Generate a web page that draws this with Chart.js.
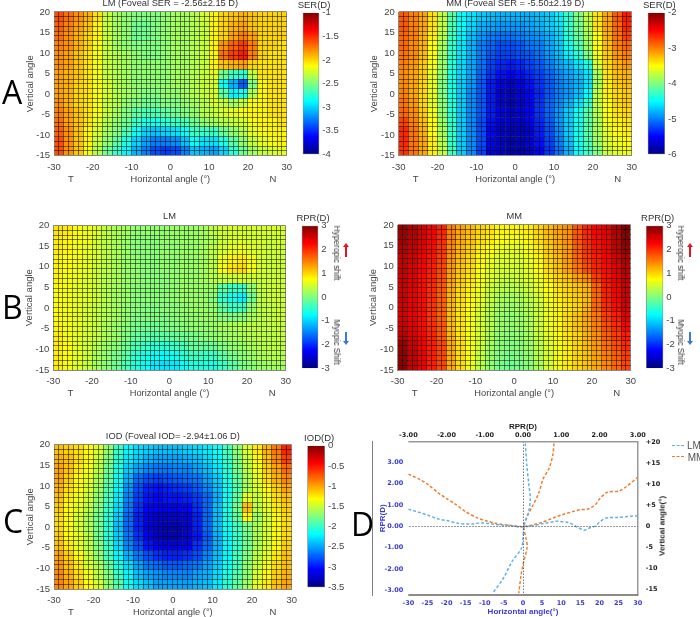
<!DOCTYPE html>
<html>
<head>
<meta charset="utf-8">
<title>Peripheral refraction maps</title>
<script src="https://cdn.jsdelivr.net/npm/chart.js@4"></script>
<style>
    html, body { margin: 0; background: #fff; overflow: hidden; }
    #page { position: relative; width: 700px; height: 617px; overflow: hidden; font-family: "Liberation Sans", sans-serif; color: #444; }
    canvas { position: absolute; filter: blur(0.4px); }
    .txt { position: absolute; white-space: nowrap; transform: translate(-50%, -50%); font-size: 9.5px; filter: blur(0.25px); }
    .letter { position: absolute; font-family: "Open Sans", sans-serif; font-size: 32px; line-height: 32px; color: #000; }
    .dash { position: absolute; width: 12px; border-top: 1.5px dashed; }
    .stem { position: absolute; width: 2px; }
    .head { position: absolute; width: 0; height: 0; border-left: 3px solid transparent; border-right: 3px solid transparent; }
</style>
</head>
<body>
<div id="page"></div>
<script>
// grid of the maps
const hAngles = [-28.75,-26.25,-23.75,-21.25,-18.75,-16.25,-13.75,-11.25,-8.75,-6.25,-3.75,-1.25,1.25,3.75,6.25,8.75,11.25,13.75,16.25,18.75,21.25,23.75,26.25,28.75];
const vEdges = [20,17.67,15.33,13,10.67,8.33,6,3.67,1.33,-1,-3.33,-5.67,-8,-10.33,-12.67,-15];

const lmSer = [
[-1.6,-1.7,-1.8,-1.9,-2.05,-2.3,-2.4,-2.45,-2.5,-2.5,-2.5,-2.45,-2.4,-2.4,-2.35,-2.25,-2.1,-2,-1.95,-1.9,-1.95,-2,-2,-2],
[-1.65,-1.75,-1.85,-1.95,-2.1,-2.3,-2.4,-2.45,-2.55,-2.55,-2.5,-2.45,-2.4,-2.4,-2.35,-2.3,-2.1,-2,-1.9,-1.85,-1.95,-2,-2,-2],
[-1.7,-1.8,-1.9,-2,-2.1,-2.3,-2.4,-2.45,-2.55,-2.55,-2.5,-2.45,-2.4,-2.4,-2.35,-2.3,-2.1,-2,-1.85,-1.75,-1.85,-2,-2,-2],
[-1.75,-1.8,-1.9,-2,-2.15,-2.3,-2.4,-2.45,-2.5,-2.5,-2.5,-2.45,-2.4,-2.4,-2.35,-2.3,-2.1,-1.8,-1.65,-1.55,-1.75,-2,-2,-2.05],
[-1.8,-1.85,-1.95,-2.05,-2.15,-2.3,-2.35,-2.4,-2.45,-2.5,-2.5,-2.45,-2.4,-2.4,-2.35,-2.3,-2.1,-1.7,-1.55,-1.45,-1.75,-2,-2.05,-2.05],
[-1.8,-1.85,-1.95,-2.05,-2.15,-2.3,-2.35,-2.4,-2.45,-2.45,-2.45,-2.45,-2.4,-2.4,-2.35,-2.3,-2.1,-1.95,-1.9,-1.85,-2,-2.05,-2.05,-2.05],
[-1.85,-1.9,-1.95,-2.05,-2.15,-2.3,-2.35,-2.4,-2.45,-2.45,-2.45,-2.45,-2.4,-2.4,-2.35,-2.3,-2.2,-2.55,-2.7,-2.75,-2.3,-2.05,-2.05,-2.05],
[-1.85,-1.9,-2,-2.05,-2.15,-2.25,-2.35,-2.4,-2.45,-2.45,-2.45,-2.45,-2.4,-2.4,-2.35,-2.3,-2.25,-2.85,-3.1,-3.35,-2.5,-2.1,-2.05,-2.05],
[-1.85,-1.9,-2,-2.05,-2.15,-2.25,-2.35,-2.4,-2.45,-2.5,-2.5,-2.45,-2.45,-2.4,-2.35,-2.3,-2.25,-2.6,-2.9,-2.8,-2.35,-2.1,-2.05,-2.05],
[-1.8,-1.9,-2,-2.05,-2.15,-2.3,-2.35,-2.45,-2.5,-2.55,-2.55,-2.5,-2.5,-2.45,-2.4,-2.35,-2.25,-2.3,-2.4,-2.3,-2.15,-2.1,-2.05,-2.05],
[-1.75,-1.85,-1.95,-2.05,-2.15,-2.3,-2.4,-2.5,-2.6,-2.65,-2.65,-2.6,-2.55,-2.5,-2.45,-2.35,-2.3,-2.25,-2.2,-2.15,-2.1,-2.1,-2.05,-2.05],
[-1.7,-1.85,-1.95,-2.05,-2.2,-2.35,-2.45,-2.55,-2.7,-2.8,-2.8,-2.75,-2.7,-2.65,-2.55,-2.45,-2.4,-2.35,-2.3,-2.25,-2.15,-2.1,-2.1,-2.05],
[-1.65,-1.8,-1.95,-2.1,-2.25,-2.4,-2.5,-2.65,-2.85,-3,-3.05,-3,-2.95,-2.85,-2.7,-2.7,-2.7,-2.55,-2.45,-2.35,-2.2,-2.15,-2.1,-2.1],
[-1.6,-1.8,-1.95,-2.1,-2.3,-2.45,-2.6,-2.8,-3,-3.15,-3.25,-3.25,-3.2,-3.05,-2.85,-2.95,-2.95,-2.8,-2.6,-2.45,-2.3,-2.2,-2.15,-2.1],
[-1.6,-1.8,-1.95,-2.15,-2.35,-2.55,-2.7,-2.9,-3.1,-3.25,-3.4,-3.45,-3.4,-3.25,-3.05,-3.1,-3.15,-3,-2.75,-2.55,-2.4,-2.3,-2.25,-2.2],
];
const mmSer = [
[-2.85,-3,-3.15,-3.4,-3.75,-4.15,-4.5,-4.6,-4.7,-4.75,-4.8,-4.8,-4.8,-4.8,-4.75,-4.7,-4.55,-4.3,-4,-3.75,-3.4,-3.15,-2.85,-2.6],
[-2.85,-3,-3.15,-3.4,-3.75,-4.2,-4.5,-4.65,-4.8,-4.85,-4.9,-4.9,-4.9,-4.85,-4.8,-4.7,-4.6,-4.3,-4.05,-3.8,-3.4,-3.15,-2.9,-2.65],
[-2.9,-3,-3.2,-3.45,-3.8,-4.25,-4.55,-4.75,-4.9,-5,-5.05,-5.05,-5,-4.95,-4.9,-4.8,-4.65,-4.35,-4.1,-3.85,-3.5,-3.2,-2.95,-2.75],
[-2.9,-3.05,-3.2,-3.5,-3.85,-4.3,-4.6,-4.8,-5,-5.1,-5.2,-5.2,-5.15,-5.05,-5,-4.85,-4.7,-4.45,-4.2,-3.9,-3.5,-3.25,-3,-2.9],
[-2.95,-3.05,-3.25,-3.5,-3.9,-4.3,-4.6,-4.8,-5,-5.15,-5.25,-5.25,-5.2,-5.15,-5.05,-4.9,-4.75,-4.55,-4.35,-4,-3.55,-3.3,-3.1,-3],
[-3,-3.1,-3.3,-3.55,-3.9,-4.35,-4.65,-4.85,-5.05,-5.25,-5.35,-5.4,-5.35,-5.25,-5.15,-5,-4.85,-4.75,-4.6,-4.4,-3.65,-3.35,-3.2,-3.1],
[-3.05,-3.15,-3.3,-3.6,-3.95,-4.4,-4.65,-4.85,-5.1,-5.3,-5.45,-5.5,-5.45,-5.35,-5.25,-5.1,-4.95,-4.85,-4.75,-4.6,-3.85,-3.4,-3.25,-3.2],
[-3.05,-3.15,-3.35,-3.6,-4,-4.4,-4.7,-4.9,-5.15,-5.4,-5.6,-5.7,-5.6,-5.45,-5.3,-5.15,-5,-4.9,-4.8,-4.6,-3.85,-3.45,-3.3,-3.25],
[-3,-3.15,-3.35,-3.6,-4,-4.4,-4.7,-4.95,-5.15,-5.4,-5.65,-5.75,-5.65,-5.5,-5.35,-5.15,-5,-4.9,-4.75,-4.5,-3.75,-3.45,-3.35,-3.3],
[-2.95,-3.1,-3.35,-3.6,-3.95,-4.35,-4.7,-4.95,-5.15,-5.4,-5.65,-5.75,-5.65,-5.5,-5.3,-5.1,-4.95,-4.8,-4.6,-4.3,-3.75,-3.5,-3.35,-3.3],
[-2.9,-3.05,-3.3,-3.55,-3.95,-4.35,-4.7,-4.95,-5.15,-5.4,-5.6,-5.7,-5.65,-5.5,-5.3,-5.1,-4.9,-4.7,-4.45,-4.15,-3.8,-3.5,-3.4,-3.35],
[-2.75,-3,-3.25,-3.5,-3.9,-4.3,-4.7,-4.95,-5.2,-5.45,-5.65,-5.7,-5.7,-5.55,-5.35,-5.15,-4.9,-4.7,-4.45,-4.15,-3.85,-3.55,-3.45,-3.4],
[-2.65,-2.95,-3.2,-3.5,-3.85,-4.3,-4.7,-4.95,-5.2,-5.5,-5.7,-5.75,-5.75,-5.65,-5.4,-5.2,-4.95,-4.7,-4.45,-4.15,-3.85,-3.6,-3.5,-3.45],
[-2.65,-2.95,-3.15,-3.45,-3.8,-4.3,-4.7,-4.95,-5.2,-5.55,-5.7,-5.8,-5.75,-5.65,-5.45,-5.25,-5,-4.75,-4.45,-4.2,-3.9,-3.65,-3.55,-3.5],
[-2.7,-2.95,-3.15,-3.45,-3.75,-4.25,-4.7,-4.95,-5.25,-5.6,-5.7,-5.8,-5.8,-5.7,-5.5,-5.3,-5.05,-4.8,-4.5,-4.25,-4,-3.7,-3.6,-3.55],
];
const lmRpr = [
[.9,.85,.75,.65,.55,.35,.25,.2,.1,.1,.1,.1,.15,.15,.15,.2,.35,.45,.5,.5,.5,.5,.5,.5],
[.85,.8,.7,.65,.5,.35,.25,.15,.05,.05,.05,.1,.1,.15,.15,.2,.3,.45,.5,.55,.5,.5,.45,.5],
[.85,.8,.7,.6,.5,.35,.25,.15,.05,.05,.05,.1,.1,.15,.15,.2,.35,.5,.6,.65,.55,.5,.45,.45],
[.8,.75,.7,.6,.5,.35,.25,.15,.1,.05,.05,.1,.1,.15,.15,.2,.35,.65,.8,.85,.7,.5,.45,.45],
[.8,.75,.65,.6,.45,.35,.25,.15,.1,.05,.05,.1,.1,.15,.15,.2,.35,.7,.9,.95,.7,.5,.45,.45],
[.8,.7,.65,.55,.45,.3,.25,.15,.1,.05,.05,.05,.1,.15,.15,.2,.3,.4,.45,.5,.45,.45,.45,.45],
[.75,.7,.6,.55,.45,.3,.2,.15,.05,.05,.05,.05,.1,.15,.15,.15,.15,-.2,-.4,-.4,.1,.4,.45,.45],
[.75,.7,.6,.55,.45,.3,.2,.15,.05,.05,.05,.05,.1,.15,.15,.15,.05,-.45,-.6,-.8,-.1,.35,.45,.45],
[.75,.7,.6,.5,.4,.3,.2,.1,.05,0,0,.05,.05,.1,.15,.15,.1,-.2,-.4,-.35,.1,.35,.4,.45],
[.75,.7,.6,.5,.4,.3,.2,.1,0,0,0,0,.05,.1,.1,.15,.15,.05,0,.05,.25,.35,.4,.45],
[.8,.7,.6,.5,.4,.25,.15,.05,-.05,-.1,-.1,-.05,0,.05,.1,.1,.15,.2,.25,.3,.35,.35,.4,.4],
[.85,.7,.6,.5,.4,.25,.15,0,-.15,-.2,-.25,-.2,-.15,-.1,-.05,.05,.1,.15,.2,.25,.3,.35,.35,.4],
[.85,.75,.6,.45,.3,.15,.05,-.1,-.3,-.4,-.5,-.5,-.4,-.3,-.15,-.15,-.1,0,.1,.15,.25,.3,.35,.35],
[.85,.75,.6,.45,.25,.1,-.05,-.2,-.45,-.6,-.7,-.75,-.65,-.5,-.35,-.4,-.4,-.2,-.05,.05,.15,.25,.3,.3],
[.85,.7,.55,.4,.2,.05,-.1,-.3,-.55,-.7,-.85,-.9,-.85,-.7,-.55,-.55,-.6,-.4,-.2,-.05,.05,.15,.2,.2],
];
const mmRpr = [
[2.85,2.7,2.5,2.3,2.05,1.5,1.3,1.15,1,.9,.8,.8,.8,.85,1,1.15,1.3,1.4,1.75,2.05,2.25,2.4,2.7,3],
[2.8,2.65,2.45,2.25,2,1.5,1.25,1.1,.95,.85,.75,.7,.7,.8,.95,1.1,1.25,1.4,1.75,2,2.2,2.35,2.65,2.95],
[2.7,2.55,2.35,2.2,1.95,1.45,1.2,1.05,.85,.75,.65,.6,.6,.7,.85,1.05,1.2,1.35,1.7,1.95,2.15,2.3,2.6,2.85],
[2.6,2.5,2.3,2.15,1.9,1.4,1.15,1,.8,.65,.55,.55,.55,.65,.8,1,1.15,1.35,1.65,1.9,2.1,2.25,2.5,2.7],
[2.6,2.45,2.25,2.1,1.85,1.35,1.1,.95,.75,.6,.5,.5,.5,.6,.75,.95,1.1,1.3,1.55,1.8,2.05,2.2,2.4,2.65],
[2.55,2.4,2.2,2.05,1.8,1.3,1.05,.9,.7,.55,.45,.4,.45,.55,.65,.85,1,1.1,1.3,1.45,1.9,2.15,2.35,2.6],
[2.55,2.4,2.2,2,1.75,1.25,1,.85,.65,.45,.35,.3,.35,.45,.6,.75,.9,1,1.1,1.2,1.7,2.1,2.3,2.55],
[2.55,2.35,2.2,2,1.7,1.2,.95,.8,.6,.4,.25,.2,.25,.35,.5,.7,.85,.95,1.05,1.15,1.65,2.05,2.25,2.55],
[2.5,2.35,2.2,1.95,1.7,1.15,.9,.75,.55,.35,.2,.15,.2,.3,.45,.65,.8,.9,1,1.2,1.65,2,2.2,2.5],
[2.5,2.35,2.2,1.95,1.7,1.15,.9,.7,.5,.3,.15,.1,.15,.25,.45,.65,.8,.95,1.1,1.3,1.55,1.9,2.1,2.4],
[2.55,2.4,2.2,2,1.75,1.15,.9,.7,.5,.3,.15,.1,.15,.25,.45,.65,.8,.95,1.1,1.25,1.5,1.8,2,2.25],
[2.65,2.45,2.25,2.05,1.75,1.2,.9,.7,.5,.25,.1,.05,.1,.2,.4,.6,.75,.9,1,1.2,1.4,1.7,1.9,2.1],
[2.85,2.55,2.3,2.1,1.85,1.25,.95,.7,.45,.2,.05,0,.05,.15,.35,.55,.7,.85,1,1.15,1.35,1.6,1.8,2],
[2.9,2.6,2.35,2.1,1.85,1.25,.95,.7,.4,.15,0,-.05,0,.1,.3,.5,.7,.85,1,1.1,1.3,1.5,1.7,1.9],
[2.9,2.6,2.35,2.1,1.85,1.25,.95,.65,.35,.1,-.05,-.1,-.05,.05,.25,.5,.7,.85,1,1.1,1.25,1.45,1.65,1.85],
];
const iod = [
[-1.1,-1.15,-1.2,-1.3,-1.45,-1.7,-2,-2.2,-2.3,-2.35,-2.4,-2.4,-2.4,-2.35,-2.3,-2.25,-2.15,-1.95,-1.7,-1.45,-1.25,-1.05,-.85,-.55],
[-1.05,-1.1,-1.2,-1.3,-1.5,-1.75,-2.05,-2.25,-2.35,-2.45,-2.5,-2.5,-2.5,-2.45,-2.4,-2.3,-2.2,-2,-1.75,-1.5,-1.3,-1.1,-.9,-.65],
[-1,-1.1,-1.25,-1.35,-1.55,-1.8,-2.1,-2.35,-2.5,-2.6,-2.65,-2.65,-2.6,-2.6,-2.5,-2.4,-2.25,-2.05,-1.8,-1.55,-1.35,-1.15,-1,-.8],
[-1,-1.15,-1.3,-1.4,-1.6,-1.85,-2.15,-2.45,-2.7,-2.8,-2.85,-2.8,-2.75,-2.7,-2.65,-2.5,-2.35,-2.1,-1.85,-1.6,-1.4,-1.2,-1.05,-.9],
[-1.05,-1.2,-1.3,-1.45,-1.65,-1.9,-2.2,-2.55,-2.8,-2.95,-3,-2.95,-2.9,-2.85,-2.75,-2.6,-2.4,-2.15,-1.9,-1.6,-1.45,-1.3,-1.15,-1],
[-1.1,-1.25,-1.35,-1.5,-1.7,-1.95,-2.25,-2.6,-2.85,-3,-3.05,-3,-3,-2.95,-2.85,-2.7,-2.45,-2.15,-1.85,-1.4,-1.5,-1.35,-1.2,-1.1],
[-1.15,-1.3,-1.4,-1.55,-1.75,-2,-2.3,-2.65,-2.9,-3.05,-3.1,-3.1,-3.1,-3.05,-2.9,-2.7,-2.4,-2.1,-1.8,-1.1,-1.55,-1.4,-1.25,-1.15],
[-1.2,-1.3,-1.45,-1.6,-1.8,-2.05,-2.35,-2.7,-2.95,-3.1,-3.2,-3.2,-3.2,-3.15,-2.95,-2.7,-2.4,-2.1,-1.85,-1.3,-1.65,-1.45,-1.3,-1.2],
[-1.2,-1.3,-1.45,-1.6,-1.8,-2.05,-2.4,-2.7,-2.95,-3.15,-3.25,-3.3,-3.3,-3.2,-2.95,-2.7,-2.4,-2.15,-1.95,-1.75,-1.6,-1.45,-1.3,-1.2],
[-1.15,-1.3,-1.4,-1.55,-1.8,-2.05,-2.35,-2.65,-2.9,-3.1,-3.25,-3.3,-3.3,-3.2,-3,-2.75,-2.45,-2.2,-2,-1.8,-1.6,-1.45,-1.3,-1.2],
[-1.1,-1.25,-1.4,-1.55,-1.75,-2,-2.3,-2.6,-2.8,-3,-3.1,-3.15,-3.15,-3.1,-2.9,-2.7,-2.45,-2.2,-2,-1.8,-1.6,-1.45,-1.3,-1.15],
[-1,-1.15,-1.3,-1.5,-1.7,-1.95,-2.2,-2.45,-2.65,-2.8,-2.9,-2.95,-2.95,-2.9,-2.8,-2.6,-2.4,-2.2,-1.95,-1.75,-1.55,-1.4,-1.25,-1.1],
[-.95,-1.1,-1.25,-1.45,-1.6,-1.85,-2.1,-2.3,-2.5,-2.65,-2.7,-2.75,-2.75,-2.7,-2.65,-2.5,-2.35,-2.15,-1.95,-1.7,-1.5,-1.35,-1.2,-1.1],
[-.9,-1.05,-1.2,-1.35,-1.55,-1.75,-2,-2.2,-2.4,-2.5,-2.55,-2.6,-2.6,-2.6,-2.5,-2.45,-2.3,-2.1,-1.9,-1.7,-1.45,-1.3,-1.15,-1.05],
[-.9,-1,-1.15,-1.3,-1.45,-1.7,-1.9,-2.15,-2.3,-2.4,-2.5,-2.5,-2.5,-2.5,-2.45,-2.4,-2.25,-2.05,-1.85,-1.65,-1.4,-1.25,-1.1,-1],
];

// panel D, RPR against horizontal angle and against vertical angle
const lmHorizontal = [[-30,.8],[-27,.65],[-25,.53],[-22,.34],[-20,.27],[-17,.14],[-15,.11],[-13,.11],[-11,.17],[-8,.11],[-5,.05],[-3,.03],[-1,-.03],[0,-.02],[2,.02],[5,.12],[8,.22],[9,.24],[12,.17],[14,-.02],[16,-.18],[17,-.1],[19,.02],[20,.2],[22,.4],[25,.42],[28,.47],[30,.5]];
const mmHorizontal = [[-30,2.45],[-27,2.2],[-25,1.98],[-22,1.55],[-20,1.3],[-18,1.08],[-15,.69],[-12,.4],[-10,.28],[-7,.14],[-4,.06],[-1,0],[0,-.02],[3,.09],[5,.19],[8,.4],[10,.53],[13,.69],[15,.78],[17,.81],[19,1.03],[20,1.28],[22,1.6],[25,1.65],[27,1.86],[30,2.3]];
const lmVertical = [[.06,19.8],[.1,14.6],[.15,10.2],[.19,6.7],[.15,3.5],[.06,1.1],[.02,0],[0,-2.9],[-.04,-5.2],[-.29,-8.4],[-.51,-12.3],[-.79,-15.9]];
const mmVertical = [[.81,19.8],[.78,17],[.68,13.8],[.53,11.4],[.41,7.9],[.24,4.7],[.08,1.9],[.02,0],[.08,-2.9],[.11,-4.8],[.02,-8.4],[-.05,-11.6],[-.11,-15.9]];

const xGridLines = [];
for (let i = 0; i <= 48; i++) xGridLines.push(-30 + i * 1.25);
const yGridLines = [];
for (let i = 0; i <= 30; i++) yGridLines.push(-15 + i * 35 / 30);

Chart.defaults.font.family = '"Liberation Sans", sans-serif';
Chart.defaults.font.size = 9.5;
Chart.defaults.color = "#444";
Chart.defaults.animation = false;
Chart.defaults.responsive = false;
Chart.defaults.plugins.legend.display = false;
Chart.defaults.plugins.tooltip.enabled = false;

const page = document.getElementById("page");

function addCanvas(left, top, width, height) {
    const c = document.createElement("canvas");
    c.width = width;
    c.height = height;
    c.style.left = left + "px";
    c.style.top = top + "px";
    page.appendChild(c);
    return c;
}

function addText(text, x, y, css) {
    const d = document.createElement("div");
    d.className = "txt";
    d.textContent = text;
    d.style.left = x + "px";
    d.style.top = y + "px";
    if (css) d.style.cssText += css;
    page.appendChild(d);
}

function jet(f) {
    const c = (v) => Math.round(255 * Math.min(1, Math.max(0, v)));
    return `rgb(${c(1.5 - Math.abs(4 * f - 3))},${c(1.5 - Math.abs(4 * f - 2))},${c(1.5 - Math.abs(4 * f - 1))})`;
}

function heatmap(matrix, title, vmin, vmax, left, right, top, bottom) {
    const canvasLeft = Math.floor(left - 30);
    const canvasTop = Math.floor(top - 16);
    const width = Math.ceil(right) + 8 - canvasLeft;
    const height = Math.ceil(bottom) + 30 - canvasTop;
    const edge = (ctx) => (ctx.index === 0 || ctx.index === ctx.chart.scales[ctx.scale.id].ticks.length - 1 ? "#888" : "rgba(0,0,0,0.5)");

    new Chart(addCanvas(canvasLeft, canvasTop, width, height), {
        type: "bar",
        data: {
            datasets: matrix.map((row, r) => ({
                data: row.map((v, c) => ({ x: hAngles[c], y: [vEdges[r + 1], vEdges[r]] })),
                backgroundColor: row.map((v) => jet((v - vmin) / (vmax - vmin))),
                grouped: false,
                barPercentage: 1,
                // the x ticks are twice as dense as the cells
                categoryPercentage: 2,
            })),
        },
        options: {
            layout: { padding: { top: top - 16 - canvasTop, right: width - (right - canvasLeft), bottom: height - 30 - (bottom - canvasTop) } },
            plugins: {
                title: { display: true, fullSize: false, text: title, color: "#333", font: { size: 9.3, weight: "normal" }, padding: { top: 1.5, bottom: 3 } },
            },
            scales: {
                x: {
                    type: "linear",
                    offset: false,
                    min: -30,
                    max: 30,
                    afterBuildTicks: (s) => { s.ticks = xGridLines.map((v) => ({ value: v })); },
                    afterFit: (s) => { s.height = 30; },
                    ticks: { autoSkip: false, maxRotation: 0, padding: 6, callback: (v) => (v % 10 === 0 ? v : "") },
                    grid: { offset: false, z: 1, drawTicks: false, color: edge },
                    border: { z: 1, color: "#888" },
                    title: { display: true, text: "Horizontal angle (°)", color: "#444", font: { size: 9.3 }, padding: { top: 0, bottom: 1 } },
                },
                y: {
                    min: -15,
                    max: 20,
                    afterFit: (s) => { s.width = left - canvasLeft; },
                    ticks: { stepSize: 5, padding: 4 },
                    grid: { display: false, drawTicks: false },
                    border: { display: false },
                    title: { display: true, text: "Vertical angle", color: "#444", font: { size: 9.5 }, padding: { top: 1, bottom: 0 } },
                },
                yGrid: {
                    position: "left",
                    min: -15,
                    max: 20,
                    afterBuildTicks: (s) => { s.ticks = yGridLines.map((v) => ({ value: v })); },
                    afterFit: (s) => { s.width = 0; },
                    ticks: { display: false },
                    grid: { z: 1, drawTicks: false, color: edge },
                    border: { display: false },
                },
            },
        },
    });
    addText("T", left + 17, bottom + 22);
    addText("N", left + 219, bottom + 22);
}

function colorbar(label, vmin, vmax, step, left, right, top, bottom) {
    const canvasLeft = Math.floor(left);
    const canvasTop = Math.floor(top - 8);
    const width = Math.ceil(right) + 28 - canvasLeft;
    const height = Math.ceil(bottom) + 7 - canvasTop;
    new Chart(addCanvas(canvasLeft, canvasTop, width, height), {
        type: "bar",
        data: {
            labels: [label],
            datasets: [{
                data: [[vmin, vmax]],
                barPercentage: 1,
                categoryPercentage: 1,
                borderWidth: 1,
                borderColor: "#888",
                backgroundColor: (ctx) => {
                    const a = ctx.chart.chartArea;
                    if (!a) return "#888";
                    const g = ctx.chart.ctx.createLinearGradient(0, a.bottom, 0, a.top);
                    [0, 0.125, 0.375, 0.625, 0.875, 1].forEach((f) => g.addColorStop(f, jet(f)));
                    return g;
                },
            }],
        },
        options: {
            layout: { padding: { left: left - canvasLeft, top: top - canvasTop, bottom: height - (bottom - canvasTop) } },
            scales: {
                x: { display: false },
                y: {
                    position: "right",
                    min: vmin,
                    max: vmax,
                    afterFit: (s) => { s.width = width - (right - canvasLeft); },
                    ticks: { stepSize: step, padding: 3, callback: (v) => v },
                    grid: { display: false, drawTicks: false },
                    border: { display: false },
                },
            },
        },
    });
    addText(label, (left + right) / 2 + 3, top - 8.5, "color:#333");
}

function letter(text, x, baseline) {
    const d = document.createElement("div");
    d.className = "letter";
    d.textContent = text;
    d.style.left = x + "px";
    d.style.top = baseline - 27 + "px";
    page.appendChild(d);
}

function shiftMarks(textX, arrowX) {
    const turned = "transform:translate(-50%,-50%) rotate(90deg);font-size:8.3px;color:#333";
    addText("Hyperopic shift", textX, 252.5, turned);
    addText("Myopic Shift", textX, 341.5, turned);
    page.insertAdjacentHTML("beforeend",
        `<div class="stem" style="left:${arrowX - 1}px;top:246px;height:11px;background:#e8141c"></div>
         <div class="head" style="left:${arrowX - 3}px;top:243px;border-bottom:4px solid #e8141c"></div>
         <div class="stem" style="left:${arrowX - 1}px;top:332px;height:10px;background:#3c78d8"></div>
         <div class="head" style="left:${arrowX - 3}px;top:341px;border-top:4px solid #3c78d8"></div>`);
}

heatmap(lmSer, "LM (Foveal SER = -2.56±2.15 D)", -4, -1, 54, 289.3, 12.3, 155.7);
colorbar("SER(D)", -4, -1, 0.5, 302.7, 319.3, 12.3, 155.7);
heatmap(mmSer, "MM (Foveal SER = -5.50±2.19 D)", -6, -2, 398.7, 634.3, 12.3, 155.7);
colorbar("SER(D)", -6, -2, 1, 647.7, 665, 12.3, 155.7);
heatmap(lmRpr, "LM", -3, 3, 53.3, 288.3, 225.7, 370);
colorbar("RPR(D)", -3, 3, 1, 301.7, 318.3, 225.7, 370);
heatmap(mmRpr, "MM", -3, 3, 397.7, 633.3, 225.3, 370);
colorbar("RPR(D)", -3, 3, 1, 646, 663.3, 225.3, 370);
heatmap(iod, "IOD (Foveal IOD= -2.94±1.06 D)", -3.5, 0, 54, 294.7, 445, 589);
colorbar("IOD(D)", -3.5, 0, 0.5, 307.3, 325, 445, 589);
shiftMarks(336.7, 346);
shiftMarks(680.7, 690);

letter("A", 2, 103);
letter("B", 2, 318);
letter("C", 3, 532);
letter("D", 351, 535);

// panel D
const blueInk = "#3a3ad0";
const tickFont = { family: '"DejaVu Sans", sans-serif', size: 6.5, weight: "bold" };
const noGrid = { display: true, color: "rgba(0,0,0,0)", drawTicks: false };
const zeroLine = {
    color: (ctx) => (ctx.tick && ctx.tick.value === 0 ? "#333" : "rgba(0,0,0,0)"),
    drawTicks: false,
    z: 1,
};
const series = (data, color, xAxisID, yAxisID) => ({
    data: data.map((p) => ({ x: p[0], y: p[1] })),
    xAxisID,
    yAxisID,
    borderColor: color,
    borderWidth: 1.5,
    borderDash: [3, 2],
    pointRadius: 0,
    tension: 0.3,
    fill: false,
});
// top and bottom edge of the plot box
const plotFrame = {
    id: "plotFrame",
    afterDraw(chart) {
        const { ctx, chartArea: a } = chart;
        ctx.save();
        ctx.lineWidth = 1.5;
        ctx.strokeStyle = "#999";
        ctx.beginPath();
        ctx.moveTo(a.left, a.top);
        ctx.lineTo(a.right, a.top);
        ctx.stroke();
        ctx.strokeStyle = "#666";
        ctx.beginPath();
        ctx.moveTo(a.left, a.bottom);
        ctx.lineTo(a.right, a.bottom);
        ctx.stroke();
        ctx.restore();
    },
};
new Chart(addCanvas(372, 420, 300, 197), {
    type: "line",
    plugins: [plotFrame],
    data: {
        datasets: [
            series(lmHorizontal, "#63b0ea", "x", "y"),
            series(mmHorizontal, "#ee7d31", "x", "y"),
            series(lmVertical, "#63b0ea", "xTop", "yRight"),
            series(mmVertical, "#ee7d31", "xTop", "yRight"),
        ],
    },
    options: {
        layout: { padding: { right: 4 } },
        scales: {
            x: {
                type: "linear",
                position: "bottom",
                min: -30,
                max: 30,
                afterFit: (s) => { s.height = 22; },
                afterBuildTicks: (s) => { s.ticks = [-30,-25,-20,-15,-10,-5,0,5,10,15,20,25,30].map((v) => ({ value: v })); },
                ticks: { color: blueInk, font: tickFont, padding: 4, autoSkip: false, maxRotation: 0 },
                grid: zeroLine,
                border: { display: false, dash: [1, 2] },
                title: { display: true, text: "Horizontal angle(°)", color: blueInk, font: { size: 8, weight: "bold" }, padding: { top: 0, bottom: 0 } },
            },
            xTop: {
                type: "linear",
                position: "top",
                min: -3,
                max: 3,
                afterFit: (s) => { s.height = 21.7; },
                afterBuildTicks: (s) => { s.ticks = [-3,-2,-1,0,1,2,3].map((v) => ({ value: v })); },
                ticks: { color: "#222", font: tickFont, padding: 2, autoSkip: false, maxRotation: 0, callback: (v) => v.toFixed(2) },
                grid: noGrid,
                border: { display: false },
                title: { display: true, text: "RPR(D)", color: "#222", font: { size: 8, weight: "bold" }, padding: { top: 1.5, bottom: 0 } },
            },
            y: {
                position: "left",
                min: -3.22,
                max: 3.97,
                afterFit: (s) => { s.width = 36.3; },
                afterBuildTicks: (s) => { s.ticks = [-3,-2,-1,0,1,2,3].map((v) => ({ value: v })); },
                ticks: { color: blueInk, font: tickFont, padding: 5, autoSkip: false, callback: (v) => v.toFixed(2) },
                grid: zeroLine,
                border: { color: "#555", width: 1.5, dash: [1, 2] },
                title: { display: true, text: "RPR(D)", color: blueInk, font: { size: 8, weight: "bold" }, padding: { top: 6, bottom: 0 } },
            },
            yRight: {
                position: "right",
                min: -16.35,
                max: 20.2,
                afterFit: (s) => { s.width = 30.3; },
                afterBuildTicks: (s) => { s.ticks = [-15,-10,-5,0,5,10,15,20].map((v) => ({ value: v })); },
                ticks: { color: "#222", font: tickFont, padding: 8, autoSkip: false, callback: (v) => (v > 0 ? "+" + v : v) },
                grid: noGrid,
                border: { color: "#999", width: 1.5 },
            },
        },
    },
});
addText("Vertical angle(°)", 661.7, 526, "transform:translate(-50%,-50%) rotate(-90deg);font-size:8px;font-weight:bold;color:#222");

// legend of panel D
page.insertAdjacentHTML("beforeend",
    `<div class="dash" style="left:672px;top:444.5px;border-color:#63b0ea"></div>
     <div class="dash" style="left:672px;top:456px;border-color:#ee7d31"></div>`);
addText("LM", 694, 445, "color:#555;font-size:10px");
addText("MM", 696, 456.5, "color:#555;font-size:10px");
</script>
</body>
</html>
